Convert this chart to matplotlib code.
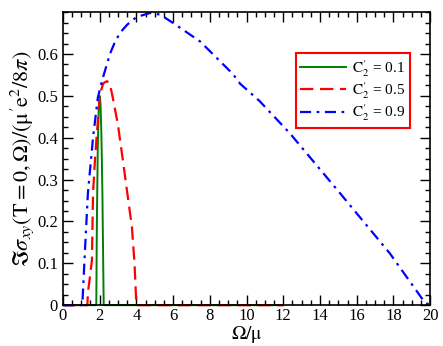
import matplotlib
matplotlib.use("Agg")
import matplotlib.pyplot as plt

plt.rcParams['font.family'] = ['Liberation Serif', 'DejaVu Serif']
plt.rcParams['mathtext.fontset'] = 'stix'

# values
# C2' = 0.1
om_01 = [0.0, 1.818, 1.85, 1.9, 1.95, 2.0, 2.05, 2.1, 2.15, 2.2, 2.222, 4.0, 12.0]
sig_01 = [0.0, 0.0, 0.20, 0.38, 0.47, 0.50, 0.48, 0.40, 0.27, 0.08, 0.0, 0.0, 0.0]

# C2' = 0.5
om_05 = [0.0, 1.333, 1.36, 1.45, 1.58, 1.64, 1.75, 1.85, 2.02, 2.2, 2.4, 2.55,
         2.72, 3.0, 3.27, 3.5, 3.76, 3.9, 4.0, 12.0]
sig_05 = [0.0, 0.0, 0.03, 0.06, 0.107, 0.267, 0.35, 0.41, 0.505, 0.53, 0.535, 0.53,
          0.495, 0.43, 0.345, 0.27, 0.186, 0.10, 0.0, 0.0]

# C2' = 0.9
om_09 = [0.0, 1.053, 1.09, 1.2, 1.36, 1.64, 1.9, 2.13, 2.4, 2.56, 2.8, 3.1, 3.5, 4.0,
         4.74, 5.3, 6.0, 7.47, 9.26, 9.65, 10.7, 12.37, 15.1, 17.8, 19.7, 20.0]
sig_09 = [0.0, 0.0, 0.03, 0.13, 0.267, 0.40, 0.495, 0.536, 0.576, 0.60, 0.625, 0.65, 0.67, 0.688,
          0.698, 0.694, 0.674, 0.63, 0.552, 0.529, 0.488, 0.41, 0.267, 0.124, 0.007, 0.0]

labels = [r"$\mathrm{C}_2^{\prime}$ = 0.1", r"$\mathrm{C}_2^{\prime}$ = 0.5", r"$\mathrm{C}_2^{\prime}$ = 0.9"]

xticks = [0, 2, 4, 6, 8, 10, 12, 14, 16, 18, 20]
yticks = [0, 0.1, 0.2, 0.3, 0.4, 0.5, 0.6]
ytick_labels = ['0', '0.1', '0.2', '0.3', '0.4', '0.5', '0.6']

fig = plt.figure(figsize=(4.43, 3.46), dpi=100)
ax = fig.add_axes([0.142, 0.118, 0.829, 0.847])

ax.plot(om_01, sig_01, color='#008000', lw=1.4, label=labels[0], clip_on=False)
ax.plot(om_05, sig_05, color='red', lw=1.6, dashes=(6, 3), label=labels[1], clip_on=False)
ax.plot(om_09, sig_09, color='blue', lw=1.6, dashes=(5, 2.5, 1.2, 2.5), label=labels[2], clip_on=False)

ax.set_xlim(0, 20)
ax.set_ylim(0, 0.7)
ax.set_xticks(xticks)
ax.set_xticklabels([str(t) for t in xticks])
ax.set_xticks([i * 0.5 for i in range(41)], minor=True)
ax.set_yticks(yticks)
ax.set_yticklabels(ytick_labels)
ax.set_yticks([i * 0.025 for i in range(29)], minor=True)
ax.tick_params(which='both', direction='in', top=True, right=True, labelsize=12, width=1.0)
ax.tick_params(which='major', length=7)
ax.tick_params(which='minor', length=3.5)
ax.tick_params(axis='x', pad=2)
for s in ax.spines.values():
    s.set_linewidth(1.2)

ax.set_xlabel(r"$\mathrm{\Omega/\mu}$", fontsize=14, labelpad=0)
ax.set_ylabel(r"$\Im\sigma_{xy}(\mathrm{T=0,\Omega})/(\mathrm{\mu^{\prime}e}^2/8\pi)$", fontsize=16, labelpad=1)

leg = ax.legend(loc='upper right', bbox_to_anchor=(0.945, 0.86), fontsize=11,
                fancybox=False, framealpha=1, handlelength=3.0, handletextpad=0.4,
                borderpad=0.3, labelspacing=0.1, borderaxespad=0)
leg.get_frame().set_edgecolor('red')
leg.get_frame().set_linewidth(1.5)

fig.savefig("out.png", dpi=100)
